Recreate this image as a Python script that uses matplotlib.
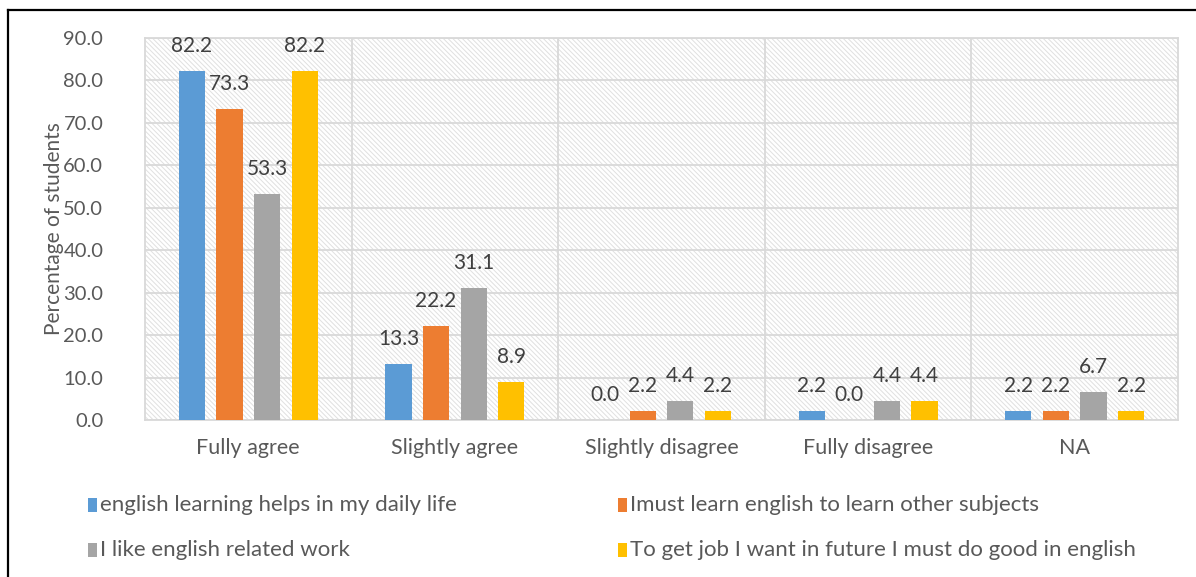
import numpy as np
import matplotlib
matplotlib.use("Agg")
import matplotlib.pyplot as plt
from matplotlib.patches import Rectangle
from matplotlib.lines import Line2D

# chart data
categories = ["Fully agree", "Slightly agree", "Slightly disagree", "Fully disagree", "NA"]
series_names = [
    "english learning helps in my daily life",
    "Imust learn english to learn other subjects",
    "I like english related work",
    "To get job I want in future I must do good in english",
]
daily_life = [82.2, 13.3, 0.0, 2.2, 2.2]
other_subjects = [73.3, 22.2, 2.2, 0.0, 2.2]
related_work = [53.3, 31.1, 4.4, 4.4, 6.7]
future_job = [82.2, 8.9, 2.2, 4.4, 2.2]
series_values = [daily_life, other_subjects, related_work, future_job]
colors = ["#5B9BD5", "#ED7D31", "#A5A5A5", "#FFC000"]
yticks = [0, 10, 20, 30, 40, 50, 60, 70, 80, 90]

plt.rcParams['font.family'] = ['Lato', 'DejaVu Sans']
plt.rcParams['hatch.linewidth'] = 0.7
txt_color = "#595959"
grid_color = "#d9d9d9"

W, H = 1196, 577
fig = plt.figure(figsize=(W / 100, H / 100), dpi=100)
ax = fig.add_axes([145 / W, 1 - 420 / H, (1178 - 145) / W, (420 - 38) / H])

# hatched plot area background
ax.add_patch(Rectangle((0, 0), 1, 1, transform=ax.transAxes, facecolor="white",
                       edgecolor="#e0e0e0", lw=0, hatch="\\" * 7, zorder=0))

x = np.arange(len(categories))
step = 0.182
bw = 0.126
for i, (vals, c) in enumerate(zip(series_values, colors)):
    pos = x + (i - 1.5) * step
    ax.bar(pos, vals, width=bw, color=c, zorder=3)
    for p, v in zip(pos, vals):
        ax.annotate(f"{v:.1f}", (p, v), textcoords="offset points", xytext=(0, 18),
                    ha="center", va="center", fontsize=15, color="#404040", zorder=4)

ax.set_xlim(-0.5, len(categories) - 0.5)
ax.set_ylim(0, 90)
ax.set_yticks(yticks)
ax.set_yticklabels([f"{t:.1f}" for t in yticks])
ax.set_xticks(x)
ax.set_xticklabels(categories)
ax.tick_params(axis="both", length=0, labelcolor=txt_color)
ax.tick_params(axis="y", pad=30, labelsize=14.5)
ax.tick_params(axis="x", pad=13, labelsize=15.5)
ax.set_ylabel("Percentage of students", fontsize=15, color=txt_color, va="center")
ax.yaxis.set_label_coords((54 - 145) / (1178 - 145), 0.5)

# horizontal grid + category separators
ax.grid(axis="y", color=grid_color, lw=1.3, zorder=1)
for b in np.arange(0.5, len(categories) - 0.5, 1):
    ax.axvline(b, color=grid_color, lw=1.3, zorder=1)
for s in ax.spines.values():
    s.set_color(grid_color)
    s.set_linewidth(1.3)

# legend, two rows of two
leg_x = [88, 618]
leg_y = [505, 550]
for i, (name, c) in enumerate(zip(series_names, colors)):
    lx = leg_x[i % 2]
    ly = leg_y[i // 2]
    fig.patches.append(Rectangle((lx / W, 1 - (ly + 7) / H), 9 / W, 14 / H,
                                 transform=fig.transFigure, facecolor=c, edgecolor="none"))
    fig.text((lx + 12) / W, 1 - ly / H, name, fontsize=16, color=txt_color,
             ha="left", va="center")

# outer frame (left and top edges visible)
fig.add_artist(Line2D([8 / W, 8 / W], [0, 1 - 10 / H], color="black", lw=1.6,
                      transform=fig.transFigure))
fig.add_artist(Line2D([8 / W, 1], [1 - 10 / H, 1 - 10 / H], color="black", lw=1.6,
                      transform=fig.transFigure))

fig.savefig("out.png", dpi=100)
